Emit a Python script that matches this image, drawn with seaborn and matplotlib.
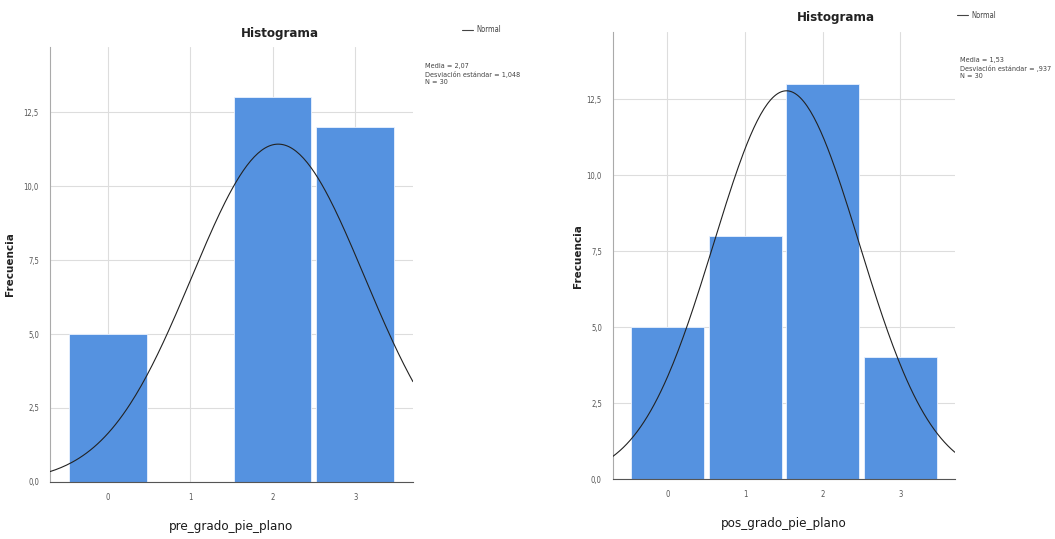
import numpy as np
import pandas as pd
import matplotlib
matplotlib.use("Agg")
import matplotlib.pyplot as plt
from matplotlib.lines import Line2D
import seaborn as sns

# Datos (frecuencias por grado)
grados = [0, 1, 2, 3]
frec_pre = [5, 0, 13, 12]
frec_pos = [5, 8, 13, 4]
nombres = ["pre_grado_pie_plano", "pos_grado_pie_plano"]
yticks = [0.0, 2.5, 5.0, 7.5, 10.0, 12.5]

sns.set_theme(style="white")
plt.rcParams["font.family"] = ["DejaVu Sans"]
plt.rcParams["font.stretch"] = "condensed"

BAR_COLOR = "#5592e0"


def coma(v, dec):
    s = f"{v:.{dec}f}".replace(".", ",")
    if s.startswith("0,") and v != 0:
        s = s[1:]
    return s


def histograma(fig, rect, frec, nombre, title_xy, leg_xy, stats_xy, ylab_x):
    ax = fig.add_axes(rect)
    df = pd.DataFrame({"grado": grados, "frec": frec})
    sns.barplot(data=df, x="grado", y="frec", native_scale=True, width=0.94,
                color=BAR_COLOR, saturation=1, edgecolor="#eaf2ff",
                linewidth=0.6, ax=ax, zorder=2)

    # curva normal de SPSS a partir de las frecuencias
    datos = np.repeat(grados, frec)
    n = len(datos)
    media = datos.mean()
    sd = datos.std(ddof=1)
    xs = np.linspace(-0.7, 3.7, 200)
    ys = n * np.exp(-0.5 * ((xs - media) / sd) ** 2) / (sd * np.sqrt(2 * np.pi))
    sns.lineplot(x=xs, y=ys, color="#222222", linewidth=0.8, ax=ax, zorder=3)

    ax.set_xlim(-0.7, 3.7)
    ax.set_ylim(0, 14.7)
    ax.set_xticks(grados)
    ax.set_xticklabels([str(g) for g in grados])
    ax.set_yticks(yticks)
    ax.set_yticklabels([coma(t, 1) for t in yticks])
    ax.tick_params(axis="both", length=0, labelsize=5.5, colors="#555555", pad=8)
    ax.grid(True, color="#dddddd", linewidth=0.8, zorder=0)
    ax.set_axisbelow(True)
    for s in ["top", "right"]:
        ax.spines[s].set_visible(False)
    ax.spines["left"].set_color("#aaaaaa")
    ax.spines["bottom"].set_color("#555555")
    ax.spines["left"].set_linewidth(0.8)
    ax.spines["bottom"].set_linewidth(0.8)

    ax.set_xlabel(nombre, fontsize=9.5, color="#1a1a1a", labelpad=13)
    ax.set_ylabel("Frecuencia", fontsize=7.5, fontweight="bold", color="#222222",
                  fontstretch="normal")
    ax.yaxis.set_label_coords(ylab_x, 0.5)

    fig.text(title_xy[0], title_xy[1], "Histograma", fontsize=9.5,
             fontweight="bold", color="#222222", ha="center", va="center")
    leg = Line2D([0], [0], color="#444444", linewidth=0.8)
    fig.legend([leg], ["Normal"], loc="center left", bbox_to_anchor=leg_xy,
               frameon=False, fontsize=5.5, handlelength=1.5, handletextpad=0.4,
               labelcolor="#444444")
    stats = (f"Media = {coma(media, 2)}\n"
             f"Desviación estándar = {coma(sd, 3)}\n"
             f"N = {n}")
    fig.text(stats_xy[0], stats_xy[1], stats, fontsize=5.2, color="#444444",
             ha="left", va="top", linespacing=1.3)
    return ax


fig = plt.figure(figsize=(10.55, 5.39), dpi=100)
histograma(fig, [0.0474, 0.1058, 0.344, 0.807], frec_pre, nombres[0],
           (280 / 1055, 1 - 33 / 539), (455 / 1055, 1 - 30 / 539),
           (425 / 1055, 1 - 63 / 539), -0.096)
histograma(fig, [0.581, 0.1113, 0.324, 0.829], frec_pos, nombres[1],
           (836 / 1055, 1 - 18 / 539), (950 / 1055, 1 - 15 / 539),
           (960 / 1055, 1 - 57 / 539), -0.088)

fig.savefig("out.png", dpi=100)
